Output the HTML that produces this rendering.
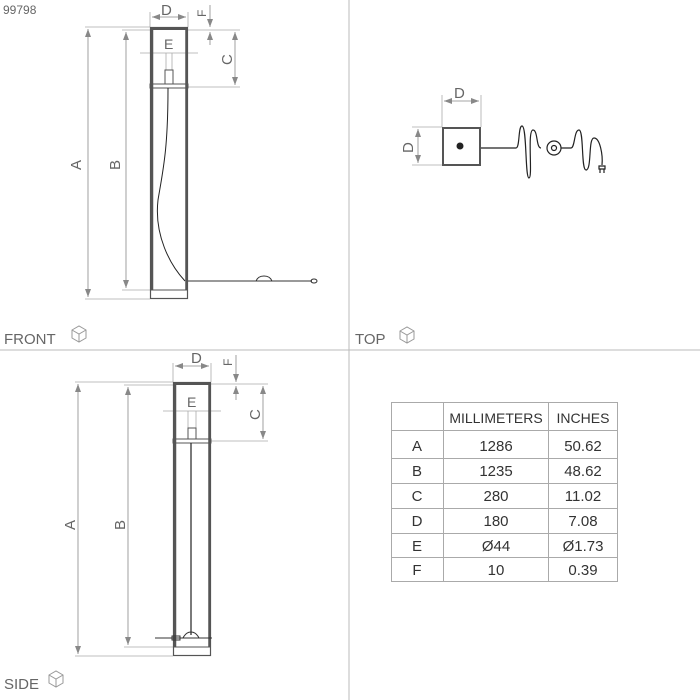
<!DOCTYPE html>
<html><head><meta charset="utf-8"><style>
body{margin:0;background:#fff}
svg{display:block}
text{font-family:"Liberation Sans",sans-serif;fill:#666}
</style></head><body>
<svg width="700" height="700" viewBox="0 0 700 700" xmlns="http://www.w3.org/2000/svg">
<defs>
<marker id="a" markerWidth="8" markerHeight="6" refX="8" refY="3" orient="auto-start-reverse" markerUnits="userSpaceOnUse">
<path d="M0,0 L8,3 L0,6 Z" fill="#888"/></marker>
</defs>
<line x1="349" y1="0" x2="349" y2="700" stroke="#bbb"/>
<line x1="0" y1="350" x2="700" y2="350" stroke="#bbb"/>
<text x="3" y="14" font-size="12">99798</text>
<text x="4" y="344" font-size="15">FRONT</text>
<text x="355" y="344" font-size="15">TOP</text>
<text x="4" y="689" font-size="15">SIDE</text>
<g stroke="#999" fill="none" stroke-width="1">
<path d="M72,330 l7,-4 7,4 0,8 -7,4 -7,-4z M72,330 l7,4 7,-4 M79,334 v8"/>
<path d="M400,331 l7,-4 7,4 0,8 -7,4 -7,-4z M400,331 l7,4 7,-4 M407,335 v8"/>
<path d="M49,675 l7,-4 7,4 0,8 -7,4 -7,-4z M49,675 l7,4 7,-4 M56,679 v8"/>
</g>

<!-- FRONT -->
<g stroke="#aaa" stroke-width="0.8" fill="none">
<line x1="85" y1="27" x2="150" y2="27"/>
<line x1="85" y1="299" x2="150" y2="299"/>
<line x1="122" y1="30" x2="150" y2="30"/>
<line x1="122" y1="290" x2="150" y2="290"/>
<line x1="188" y1="30" x2="240" y2="30"/>
<line x1="188" y1="87" x2="240" y2="87"/>
<line x1="150" y1="12" x2="150" y2="27"/>
<line x1="188" y1="12" x2="188" y2="27"/>
<line x1="140" y1="53" x2="198" y2="53"/>
<line x1="166" y1="53" x2="166" y2="70"/><line x1="172" y1="53" x2="172" y2="70"/>
</g>
<g stroke="#888" stroke-width="0.8" fill="none">
<line x1="88" y1="29" x2="88" y2="297" marker-start="url(#a)" marker-end="url(#a)"/>
<line x1="126" y1="32" x2="126" y2="288" marker-start="url(#a)" marker-end="url(#a)"/>
<line x1="235" y1="32" x2="235" y2="85" marker-start="url(#a)" marker-end="url(#a)"/>
<line x1="152" y1="17" x2="186" y2="17" marker-start="url(#a)" marker-end="url(#a)"/>
<line x1="210" y1="5" x2="210" y2="27" marker-end="url(#a)"/>
<line x1="210" y1="45" x2="210" y2="32" marker-end="url(#a)"/>
</g>
<text x="161" y="15" font-size="15">D</text>
<text x="164" y="49" font-size="14">E</text>
<text transform="translate(81,170) rotate(-90)" font-size="15">A</text>
<text transform="translate(120,170) rotate(-90)" font-size="15">B</text>
<text transform="translate(232,65) rotate(-90)" font-size="15">C</text>
<text transform="translate(206,17) rotate(-90)" font-size="12">F</text>
<g stroke="#555" fill="none">
<rect x="150.5" y="27.5" width="37" height="271" stroke-width="1.2"/>
<line x1="152" y1="28" x2="152" y2="290" stroke-width="2.5"/>
<line x1="186.5" y1="28" x2="186.5" y2="290" stroke-width="2.5"/>
<line x1="150" y1="29" x2="188" y2="29" stroke-width="2"/>
<line x1="150" y1="290" x2="188" y2="290"/>
<rect x="150" y="84" width="38" height="4" stroke-width="1"/>
<rect x="165" y="70" width="8" height="14" stroke-width="1"/>
<path d="M168,88 C168,150 163,170 158,200 C154,235 170,265 185,281" stroke="#222" stroke-width="1"/>
<line x1="188" y1="281" x2="312" y2="281" stroke="#333" stroke-width="1"/>
<path d="M256,281 q2,-5 8,-5 q6,0 8,5" stroke="#333"/>
<ellipse cx="314" cy="281" rx="3" ry="2" stroke="#333"/>
</g>

<!-- TOP -->
<g stroke="#aaa" stroke-width="0.8" fill="none">
<line x1="442" y1="95" x2="442" y2="127"/><line x1="481" y1="95" x2="481" y2="127"/>
<line x1="412" y1="127" x2="442" y2="127"/><line x1="412" y1="165" x2="442" y2="165"/>
</g>
<g stroke="#888" stroke-width="0.8">
<line x1="444" y1="101" x2="479" y2="101" marker-start="url(#a)" marker-end="url(#a)"/>
<line x1="418" y1="129" x2="418" y2="163" marker-start="url(#a)" marker-end="url(#a)"/>
</g>
<text x="454" y="98" font-size="15">D</text>
<text transform="translate(413,153) rotate(-90)" font-size="15">D</text>
<rect x="443" y="128" width="37" height="37" fill="none" stroke="#555" stroke-width="2"/>
<circle cx="460" cy="146" r="3.5" fill="#222"/>
<g stroke="#222" stroke-width="1.2" fill="none">
<path d="M481,148 H516 C520,148 518,126 522,126 C527,126 525,178 529,178 C533,178 527,130 533,130 C538,130 536,148 541,148"/>
<circle cx="554" cy="148" r="7"/><circle cx="554" cy="148" r="2.5"/>
<path d="M561,148 H571 C575,148 574,130 579,130 C584,130 581,170 586,170 C592,170 588,138 594,138 C600,138 603,155 602,165"/>
<path d="M599,166 h6 v3 h-6z M600,169 v4 M604,169 v4"/>
</g>

<!-- SIDE -->
<g stroke="#aaa" stroke-width="0.8" fill="none">
<line x1="75" y1="382" x2="173" y2="382"/>
<line x1="75" y1="656" x2="173" y2="656"/>
<line x1="124" y1="385" x2="173" y2="385"/>
<line x1="124" y1="647" x2="173" y2="647"/>
<line x1="211" y1="384" x2="268" y2="384"/>
<line x1="211" y1="441" x2="268" y2="441"/>
<line x1="173" y1="363" x2="173" y2="382"/>
<line x1="211" y1="363" x2="211" y2="382"/>
<line x1="163" y1="411" x2="221" y2="411"/>
<line x1="188" y1="411" x2="188" y2="428"/><line x1="196" y1="411" x2="196" y2="428"/>
</g>
<g stroke="#888" stroke-width="0.8" fill="none">
<line x1="78" y1="384" x2="78" y2="654" marker-start="url(#a)" marker-end="url(#a)"/>
<line x1="128" y1="387" x2="128" y2="645" marker-start="url(#a)" marker-end="url(#a)"/>
<line x1="263" y1="386" x2="263" y2="439" marker-start="url(#a)" marker-end="url(#a)"/>
<line x1="175" y1="366" x2="209" y2="366" marker-start="url(#a)" marker-end="url(#a)"/>
<line x1="236" y1="355" x2="236" y2="382" marker-end="url(#a)"/>
<line x1="236" y1="400" x2="236" y2="386" marker-end="url(#a)"/>
</g>
<text x="191" y="363" font-size="15">D</text>
<text x="187" y="407" font-size="14">E</text>
<text transform="translate(75,530) rotate(-90)" font-size="15">A</text>
<text transform="translate(125,530) rotate(-90)" font-size="15">B</text>
<text transform="translate(260,420) rotate(-90)" font-size="15">C</text>
<text transform="translate(232,366) rotate(-90)" font-size="12">F</text>
<g stroke="#555" fill="none">
<rect x="173.5" y="382.5" width="37" height="273" stroke-width="1.2"/>
<line x1="175" y1="383" x2="175" y2="647" stroke-width="2.5"/>
<line x1="209.5" y1="383" x2="209.5" y2="647" stroke-width="2.5"/>
<line x1="173" y1="384" x2="211" y2="384" stroke-width="2"/>
<line x1="173" y1="647" x2="211" y2="647"/>
<rect x="173" y="439" width="38" height="4"/>
<rect x="188" y="428" width="8" height="11"/>
<line x1="191" y1="443" x2="191" y2="635" stroke="#222" stroke-width="1.2"/>
<path d="M183,638 q3,-6 8,-6 q5,0 8,6 z" stroke="#333"/>
<line x1="155" y1="638" x2="212" y2="638" stroke="#333"/>
<rect x="172" y="636" width="8" height="4" stroke="#333"/>
</g>

<!-- TABLE -->
<g stroke="#aaa" stroke-width="1" fill="none">
<rect x="391.5" y="402.5" width="226" height="179"/>
<line x1="443.5" y1="402" x2="443.5" y2="582"/>
<line x1="548.5" y1="402" x2="548.5" y2="582"/>
<line x1="391" y1="430.5" x2="618" y2="430.5"/>
<line x1="391" y1="458.5" x2="618" y2="458.5"/>
<line x1="391" y1="483.5" x2="618" y2="483.5"/>
<line x1="391" y1="508.5" x2="618" y2="508.5"/>
<line x1="391" y1="533.5" x2="618" y2="533.5"/>
<line x1="391" y1="557.5" x2="618" y2="557.5"/>
</g>
<g font-size="15" text-anchor="middle" style="fill:#333">
<text x="496" y="423" style="fill:#333;font-size:14px">MILLIMETERS</text>
<text x="583" y="423" style="fill:#333;font-size:14px">INCHES</text>
<text x="417" y="451" style="fill:#333">A</text><text x="496" y="451" style="fill:#333">1286</text><text x="583" y="451" style="fill:#333">50.62</text>
<text x="417" y="476" style="fill:#333">B</text><text x="496" y="476" style="fill:#333">1235</text><text x="583" y="476" style="fill:#333">48.62</text>
<text x="417" y="501" style="fill:#333">C</text><text x="496" y="501" style="fill:#333">280</text><text x="583" y="501" style="fill:#333">11.02</text>
<text x="417" y="526" style="fill:#333">D</text><text x="496" y="526" style="fill:#333">180</text><text x="583" y="526" style="fill:#333">7.08</text>
<text x="417" y="551" style="fill:#333">E</text><text x="496" y="551" style="fill:#333">Ø44</text><text x="583" y="551" style="fill:#333">Ø1.73</text>
<text x="417" y="575" style="fill:#333">F</text><text x="496" y="575" style="fill:#333">10</text><text x="583" y="575" style="fill:#333">0.39</text>
</g>
</svg>
</body></html>
